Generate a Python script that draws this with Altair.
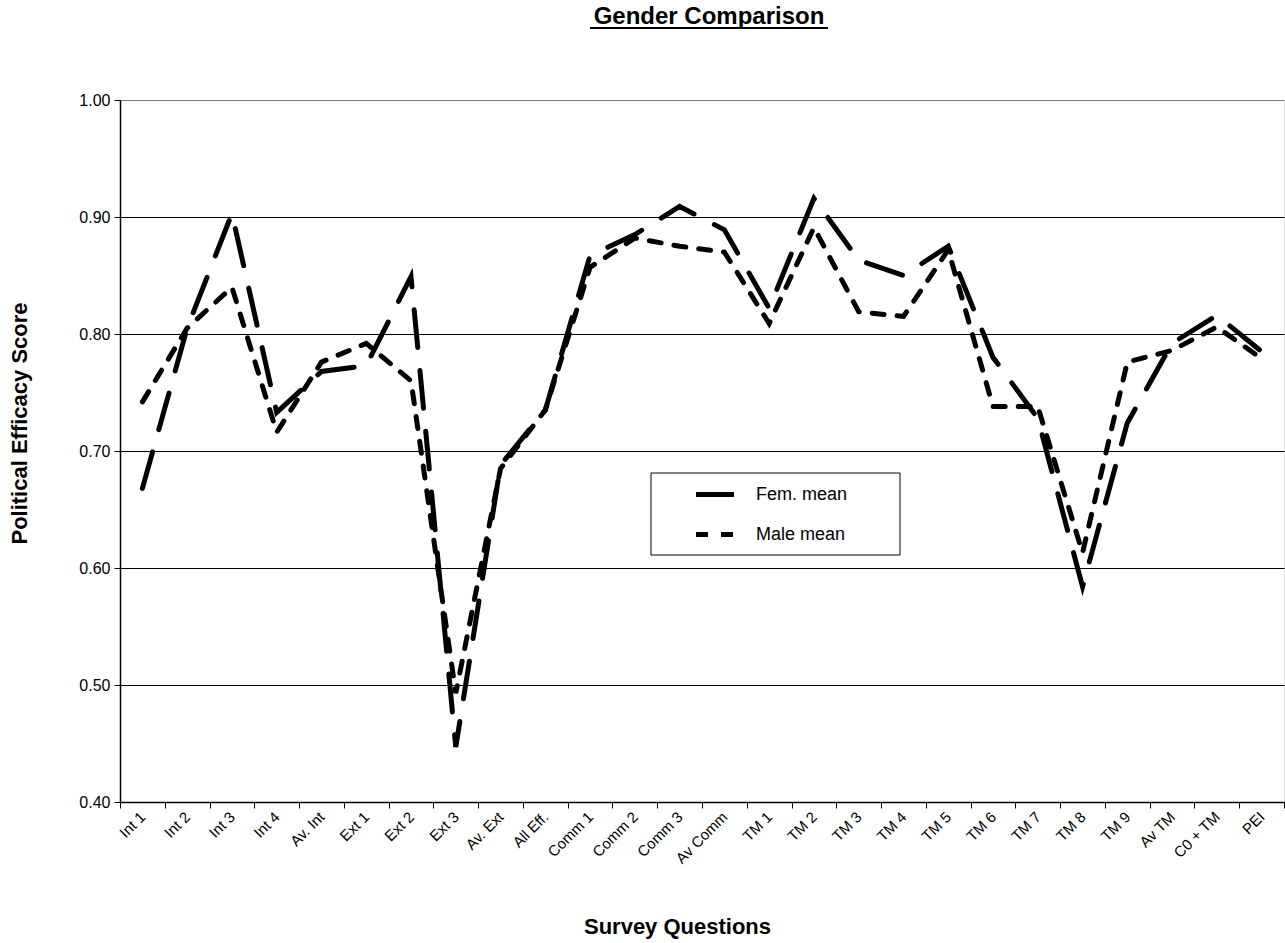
import altair as alt
import pandas as pd

categories = ["Int 1", "Int 2", "Int 3", "Int 4", "Av. Int", "Ext 1", "Ext 2", "Ext 3",
              "Av. Ext", "All Eff.", "Comm  1", "Comm  2", "Comm 3", "Av Comm", "TM 1",
              "TM 2", "TM 3", "TM 4", "TM 5", "TM 6", "TM 7", "TM 8", "TM 9", "Av TM",
              "C0 + TM", "PEI"]
fem_mean = [0.668, 0.805, 0.903, 0.733, 0.768, 0.773, 0.849, 0.447, 0.688, 0.735,
            0.867, 0.885, 0.909, 0.889, 0.822, 0.916, 0.863, 0.850, 0.875, 0.780,
            0.728, 0.584, 0.724, 0.792, 0.816, 0.785]
male_mean = [0.742, 0.805, 0.840, 0.716, 0.776, 0.792, 0.760, 0.493, 0.685, 0.735,
             0.857, 0.882, 0.875, 0.870, 0.809, 0.891, 0.819, 0.815, 0.872, 0.738,
             0.738, 0.613, 0.776, 0.786, 0.806, 0.779]
series_names = ["Fem. mean", "Male mean"]
y_ticks = [0.4, 0.5, 0.6, 0.7, 0.8, 0.9, 1.0]
chart_title = "Gender Comparison"

rows = []
for i, c in enumerate(categories):
    rows.append({"q": c, "s": series_names[0], "v": fem_mean[i], "o": i})
    rows.append({"q": c, "s": series_names[1], "v": male_mean[i], "o": i})
df = pd.DataFrame(rows)
one = pd.DataFrame({"k": [0]})

FONT = "Liberation Sans"

lines = alt.Chart(df).mark_line(strokeWidth=5, strokeCap="round", color="black").encode(
    x=alt.X("q:N", sort=categories,
            scale=alt.Scale(type="band", paddingInner=0, paddingOuter=0),
            bandPosition=0.5,
            axis=alt.Axis(title="Survey Questions", labelAngle=315, labelAlign="right",
                          labelBaseline="middle", labelPadding=6, labelFontSize=15,
                          labelFont=FONT, labelColor="black", tickBand="extent",
                          tickSize=6, tickColor="black", domainColor="black",
                          domainWidth=1.5, grid=False, labelOverlap=False,
                          titleFont=FONT, titleFontSize=22, titleFontWeight="bold",
                          titleColor="black", titleX=557, titleY=131,
                          titleBaseline="alphabetic", titleAlign="center")),
    y=alt.Y("v:Q", scale=alt.Scale(domain=[0.4, 1.0], nice=False, zero=False),
            axis=alt.Axis(title="Political Efficacy Score", values=y_ticks, format=".2f",
                          labelFontSize=16, labelFont=FONT, labelColor="black",
                          labelPadding=4, tickSize=6, tickColor="black",
                          domainColor="black", domainWidth=1.5, grid=True,
                          gridColor={"condition": {"test": "datum.value >= 0.999",
                                                   "value": "#808080"},
                                     "value": "black"},
                          gridWidth=1,
                          titleFont=FONT, titleFontSize=22, titleFontWeight="bold",
                          titleColor="black", titleAngle=270, titleX=-101, titleY=323,
                          titleBaseline="middle", titleAlign="center")),
    strokeDash=alt.StrokeDash("s:N",
                              scale=alt.Scale(domain=series_names, range=[[38, 23], [12, 13]]),
                              legend=alt.Legend(title=None, orient="none", legendX=531,
                                                legendY=373, symbolType="M-2.5,0H2.5",
                                                symbolSize=324, symbolStrokeWidth=5,
                                                symbolStrokeColor="black",
                                                symbolOffset=46, labelOffset=26,
                                                labelFont=FONT, labelFontSize=18,
                                                labelColor="black", rowPadding=18,
                                                padding=10)),
    order="o:Q",
)

legend_box = alt.Chart(one).mark_rect(fill="white", stroke="black", strokeWidth=1).encode(
    x=alt.value(531), x2=alt.value(780), y=alt.value(373), y2=alt.value(455)
)

title_text = alt.Chart(one).mark_text(font=FONT, fontSize=24, fontWeight="bold",
                                      color="black", align="center",
                                      baseline="alphabetic").encode(
    x=alt.value(589), y=alt.value(-76), text=alt.value(chart_title)
)

underline = alt.Chart(one).mark_rule(color="black", strokeWidth=2).encode(
    x=alt.value(470), x2=alt.value(708), y=alt.value(-72)
)

chart = alt.layer(lines, legend_box, title_text, underline).properties(
    width=1164, height=702,
    autosize=alt.AutoSizeParams(type="none"),
    padding={"left": 120, "top": 100, "right": 1, "bottom": 141},
).configure_view(stroke="#808080", strokeWidth=2).configure(background="white")

chart.save("out.html", embed_options={"renderer": "svg", "actions": False})
